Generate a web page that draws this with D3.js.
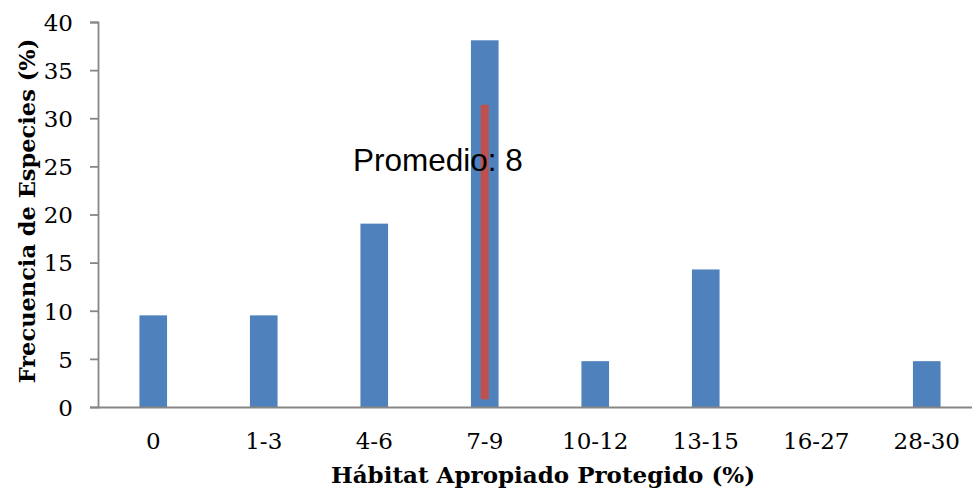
<!DOCTYPE html>
<html>
<head>
<meta charset="utf-8">
<script src="https://cdn.jsdelivr.net/npm/d3@7"></script>
<style>
  html, body { margin: 0; padding: 0; background: #fff; }
  svg { display: block; }
</style>
</head>
<body>
<svg id="chart" width="972" height="498"></svg>
<script>
// ---- data ----
const categories = ["0", "1-3", "4-6", "7-9", "10-12", "13-15", "16-27", "28-30"];
const frequencies = [9.52, 9.52, 19.05, 38.1, 4.76, 14.29, 0, 4.76];
const yTicks = [0, 5, 10, 15, 20, 25, 30, 35, 40];
const meanCategory = "7-9";
const meanLineRange = [0.8, 31.4];
const meanLabel = "Promedio: 8";
const xTitle = "Hábitat Apropiado Protegido (%)";
const yTitle = "Frecuencia de Especies (%)";

(function () {
// ---- layout ----
const svg = d3.select("#chart");
const mLeft = 98, mRight = 982, mTop = 22, mBottom = 407;
const serif = "'DejaVu Serif', serif";

const x = d3.scaleBand().domain(categories).range([mLeft, mRight]).paddingInner(0.75).paddingOuter(0.375);
const y = d3.scaleLinear().domain([0, 40]).range([mBottom, mTop]);

// bars
svg.append("g").selectAll("rect").data(categories).join("rect")
  .attr("x", d => x(d))
  .attr("width", x.bandwidth())
  .attr("y", (d, i) => y(frequencies[i]))
  .attr("height", (d, i) => y(0) - y(frequencies[i]))
  .attr("fill", "#4F81BD");

// mean line
const mx = x(meanCategory) + x.bandwidth() / 2;
svg.append("rect")
  .attr("x", mx - 4)
  .attr("width", 8)
  .attr("y", y(meanLineRange[1]))
  .attr("height", y(meanLineRange[0]) - y(meanLineRange[1]))
  .attr("fill", "#C0504D");

// y axis
const yAxis = svg.append("g").attr("transform", `translate(${mLeft},0)`)
  .call(d3.axisLeft(y).tickValues(yTicks).tickSize(8).tickPadding(17).tickFormat(d3.format("d")));
yAxis.select(".domain").attr("stroke", "#868686").attr("stroke-width", 1.8);
yAxis.selectAll(".tick line").attr("stroke", "#868686").attr("stroke-width", 1.8);
yAxis.selectAll(".tick text").attr("font-family", serif).attr("font-size", 23).attr("fill", "#000").attr("dy", "0.36em");

// x axis
const xAxis = svg.append("g").attr("transform", `translate(0,${mBottom})`)
  .call(d3.axisBottom(x).tickSize(0).tickPadding(26));
xAxis.select(".domain").attr("stroke", "#868686").attr("stroke-width", 1.8);
xAxis.selectAll(".tick text").attr("font-family", serif).attr("font-size", 23).attr("fill", "#000");

// mean label
svg.append("text")
  .attr("x", 353).attr("y", 171)
  .attr("font-family", "'Liberation Sans', Arial, sans-serif")
  .attr("font-size", 31.5)
  .attr("fill", "#000")
  .text(meanLabel);

// axis titles
svg.append("text")
  .attr("x", 543).attr("y", 483)
  .attr("text-anchor", "middle")
  .attr("font-family", serif).attr("font-weight", "bold").attr("font-size", 23)
  .text(xTitle);

svg.append("text")
  .attr("transform", "translate(35,211) rotate(-90)")
  .attr("text-anchor", "middle")
  .attr("font-family", serif).attr("font-weight", "bold").attr("font-size", 22.5)
  .text(yTitle);
})();
</script>
</body>
</html>
